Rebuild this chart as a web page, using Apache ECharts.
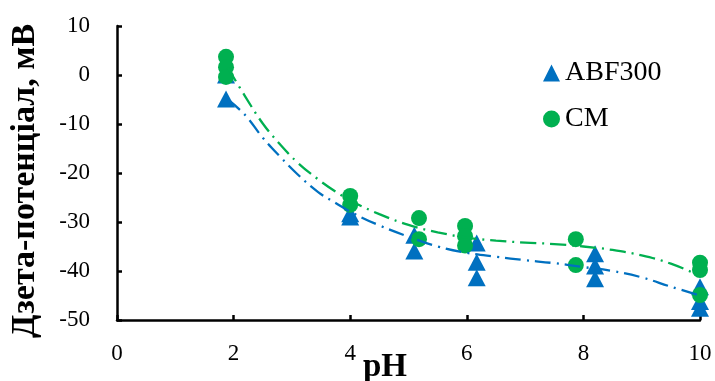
<!DOCTYPE html>
<html>
<head>
<meta charset="utf-8">
<script src="https://cdn.jsdelivr.net/npm/echarts@6/dist/echarts.min.js"></script>
<style>html,body{margin:0;padding:0;background:#fff;}#c{width:715px;height:381px;}</style>
</head>
<body>
<div id="c"></div>
<script>
// Measured data
var abfPH   = [1.87, 1.87, 4.0, 4.0, 5.1, 5.1, 6.17, 6.17, 6.17, 8.2, 8.2, 8.2, 10, 10, 10];
var abfZeta = [0.0, -4.9, -28.3, -29.0, -32.7, -35.9, -34.3, -38.2, -41.4, -36.5, -39.0, -41.6, -43.2, -46.2, -47.6];
var cmPH    = [1.87, 1.87, 1.87, 4.0, 4.0, 5.18, 5.18, 5.97, 5.97, 5.97, 7.87, 7.87, 10, 10, 10];
var cmZeta  = [3.7, 1.6, -0.4, -24.7, -26.5, -29.2, -33.5, -30.8, -32.9, -34.8, -33.5, -38.8, -38.3, -39.8, -44.9];
// Trend lines
var trendPH    = [1.9, 2.2, 2.5, 2.8, 3.1, 3.45, 3.75, 4.05, 4.5, 5, 5.5, 6, 6.5, 7, 7.5, 8, 8.5, 9, 9.5, 10];
var abfTrend   = [-5.0, -8.2, -12.8, -16.7, -20.3, -23.9, -26.1, -28.2, -30.7, -33.0, -35.0, -36.3, -37.1, -37.8, -38.4, -39.2, -40.0, -41.3, -43.2, -45.0];
var cmTrend    = [1.5, -4.4, -9.9, -14.2, -17.9, -21.3, -23.8, -25.9, -28.4, -30.6, -32.1, -33.2, -33.8, -34.2, -34.5, -35.0, -35.7, -36.8, -38.5, -41.0];
var xTicks = [0, 2, 4, 6, 8, 10];
var yTicks = [-50, -40, -30, -20, -10, 0, 10];
var seriesNames = ['ABF300', 'CM'];
var xTitle = 'pH';
var yTitle = 'Дзета-потенціал, мВ';

function pairs(xs, ys){ return xs.map(function(x,i){ return [x, ys[i]]; }); }

var BLUE = '#0070C0', GREEN = '#00B050';
var FONT = 'Liberation Serif';
var chart = echarts.init(document.getElementById('c'), null, {renderer:'canvas'});
chart.setOption({
  animation: false,
  backgroundColor: '#fff',
  grid: {left: 117, right: 15, top: 26, bottom: 61, containLabel: false},
  xAxis: {
    type: 'value', min: xTicks[0], max: xTicks[xTicks.length-1], interval: 2,
    axisLine: {onZero: false, lineStyle: {color: '#000', width: 2.5}},
    axisTick: {inside: true, length: 5, lineStyle: {color: '#000', width: 2.5}},
    axisLabel: {fontFamily: FONT, fontSize: 23, color: '#000', margin: 22},
    splitLine: {show: false}
  },
  yAxis: {
    type: 'value', min: yTicks[0], max: yTicks[yTicks.length-1], interval: 10,
    axisLine: {show: true, onZero: false, lineStyle: {color: '#000', width: 2.5}},
    axisTick: {show: true, inside: true, length: 5, lineStyle: {color: '#000', width: 2.5}},
    axisLabel: {fontFamily: FONT, fontSize: 23, color: '#000', margin: 27},
    splitLine: {show: false}
  },
  legend: {
    data: seriesNames, orient: 'vertical', left: 538, top: 54, itemGap: 18,
    itemWidth: 17, itemHeight: 17,
    textStyle: {fontFamily: FONT, fontSize: 28, color: '#000'}
  },
  graphic: [
    {type: 'text', x: 385, y: 367, style: {text: xTitle, font: 'bold 33px "Liberation Serif"', fill: '#000', textAlign: 'center', textVerticalAlign: 'middle'}},
    {type: 'text', x: 25, y: 181, rotation: Math.PI/2, style: {text: yTitle, font: 'bold 34px "Liberation Serif"', fill: '#000', textAlign: 'center', textVerticalAlign: 'middle'}}
  ],
  series: [
    {name: seriesNames[0], type: 'scatter', symbol: 'triangle', symbolSize: [18, 17], itemStyle: {color: BLUE, opacity: 1}, data: pairs(abfPH, abfZeta), z: 2},
    {name: seriesNames[1], type: 'scatter', symbol: 'circle', symbolSize: 16, itemStyle: {color: GREEN, opacity: 1}, data: pairs(cmPH, cmZeta), z: 3},
    {name: 'abfTrend', type: 'line', smooth: 0.4, showSymbol: false, symbol: 'none', lineStyle: {color: BLUE, width: 2.3, type: [16, 6, 2, 6]}, data: pairs(trendPH, abfTrend), z: 4, silent: true},
    {name: 'cmTrend', type: 'line', smooth: 0.4, showSymbol: false, symbol: 'none', lineStyle: {color: GREEN, width: 2.3, type: [16, 6, 2, 6]}, data: pairs(trendPH, cmTrend), z: 4, silent: true}
  ]
});
</script>
</body>
</html>
